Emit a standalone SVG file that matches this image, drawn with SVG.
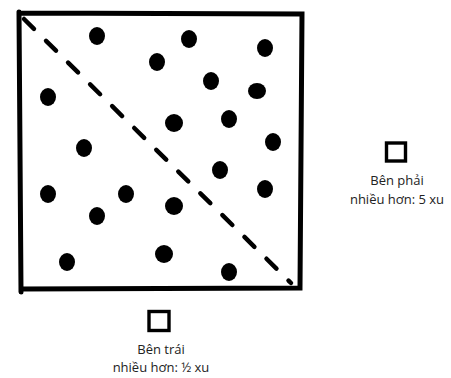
<svg xmlns="http://www.w3.org/2000/svg" width="451" height="378" viewBox="0 0 451 378">
<style>
.frame{fill:none;stroke:#000;stroke-width:5;stroke-linecap:round}
.dash{fill:none;stroke:#000;stroke-width:4.5;stroke-linecap:round;stroke-dasharray:14 17}
.dot{fill:#000}
.box{fill:none;stroke:#000;stroke-width:3.4}
.lbl{font-family:"Open Sans","Liberation Sans",sans-serif;font-size:13px;fill:#222;text-anchor:middle}
</style>
<rect width="451" height="378" fill="#fff"/>
<g id="square">
<path class="frame" d="M19 12 L21 292 M19 13 L302 14 L300 288 L21 289"/>
</g>
<g id="connectors">
<path class="dash" d="M24 19 L291 283"/>
</g>
<g id="dots">
<ellipse class="dot" cx="97" cy="36" rx="8" ry="9"/>
<ellipse class="dot" cx="189" cy="39" rx="8" ry="9"/>
<ellipse class="dot" cx="265" cy="48" rx="8" ry="9"/>
<ellipse class="dot" cx="157" cy="62" rx="8" ry="9"/>
<ellipse class="dot" cx="211" cy="81" rx="8" ry="9"/>
<ellipse class="dot" cx="257" cy="91" rx="9" ry="8"/>
<ellipse class="dot" cx="48" cy="97" rx="8" ry="9"/>
<ellipse class="dot" cx="174" cy="123" rx="9" ry="9"/>
<ellipse class="dot" cx="229" cy="119" rx="8" ry="9"/>
<ellipse class="dot" cx="273" cy="142" rx="8" ry="9"/>
<ellipse class="dot" cx="84" cy="148" rx="8" ry="9"/>
<ellipse class="dot" cx="220" cy="170" rx="8" ry="9"/>
<ellipse class="dot" cx="48" cy="194" rx="8" ry="9"/>
<ellipse class="dot" cx="126" cy="194" rx="8" ry="9"/>
<ellipse class="dot" cx="265" cy="189" rx="8" ry="9"/>
<ellipse class="dot" cx="174" cy="206" rx="9" ry="9"/>
<ellipse class="dot" cx="97" cy="216" rx="8" ry="9"/>
<ellipse class="dot" cx="164" cy="254" rx="9" ry="9"/>
<ellipse class="dot" cx="67" cy="262" rx="8" ry="9"/>
<ellipse class="dot" cx="229" cy="272" rx="8" ry="9"/>
</g>
<g id="right-label">
<rect class="box" x="386.5" y="143" width="19" height="18"/>
<text class="lbl" x="397" y="185">Bên phải</text>
<text class="lbl" x="397" y="204">nhiều hơn: 5 xu</text>
</g>
<g id="bottom-label">
<rect class="box" x="149" y="311.5" width="20" height="19"/>
<text class="lbl" x="161" y="354">Bên trái</text>
<text class="lbl" x="161" y="372">nhiều hơn: ½ xu</text>
</g>
</svg>
